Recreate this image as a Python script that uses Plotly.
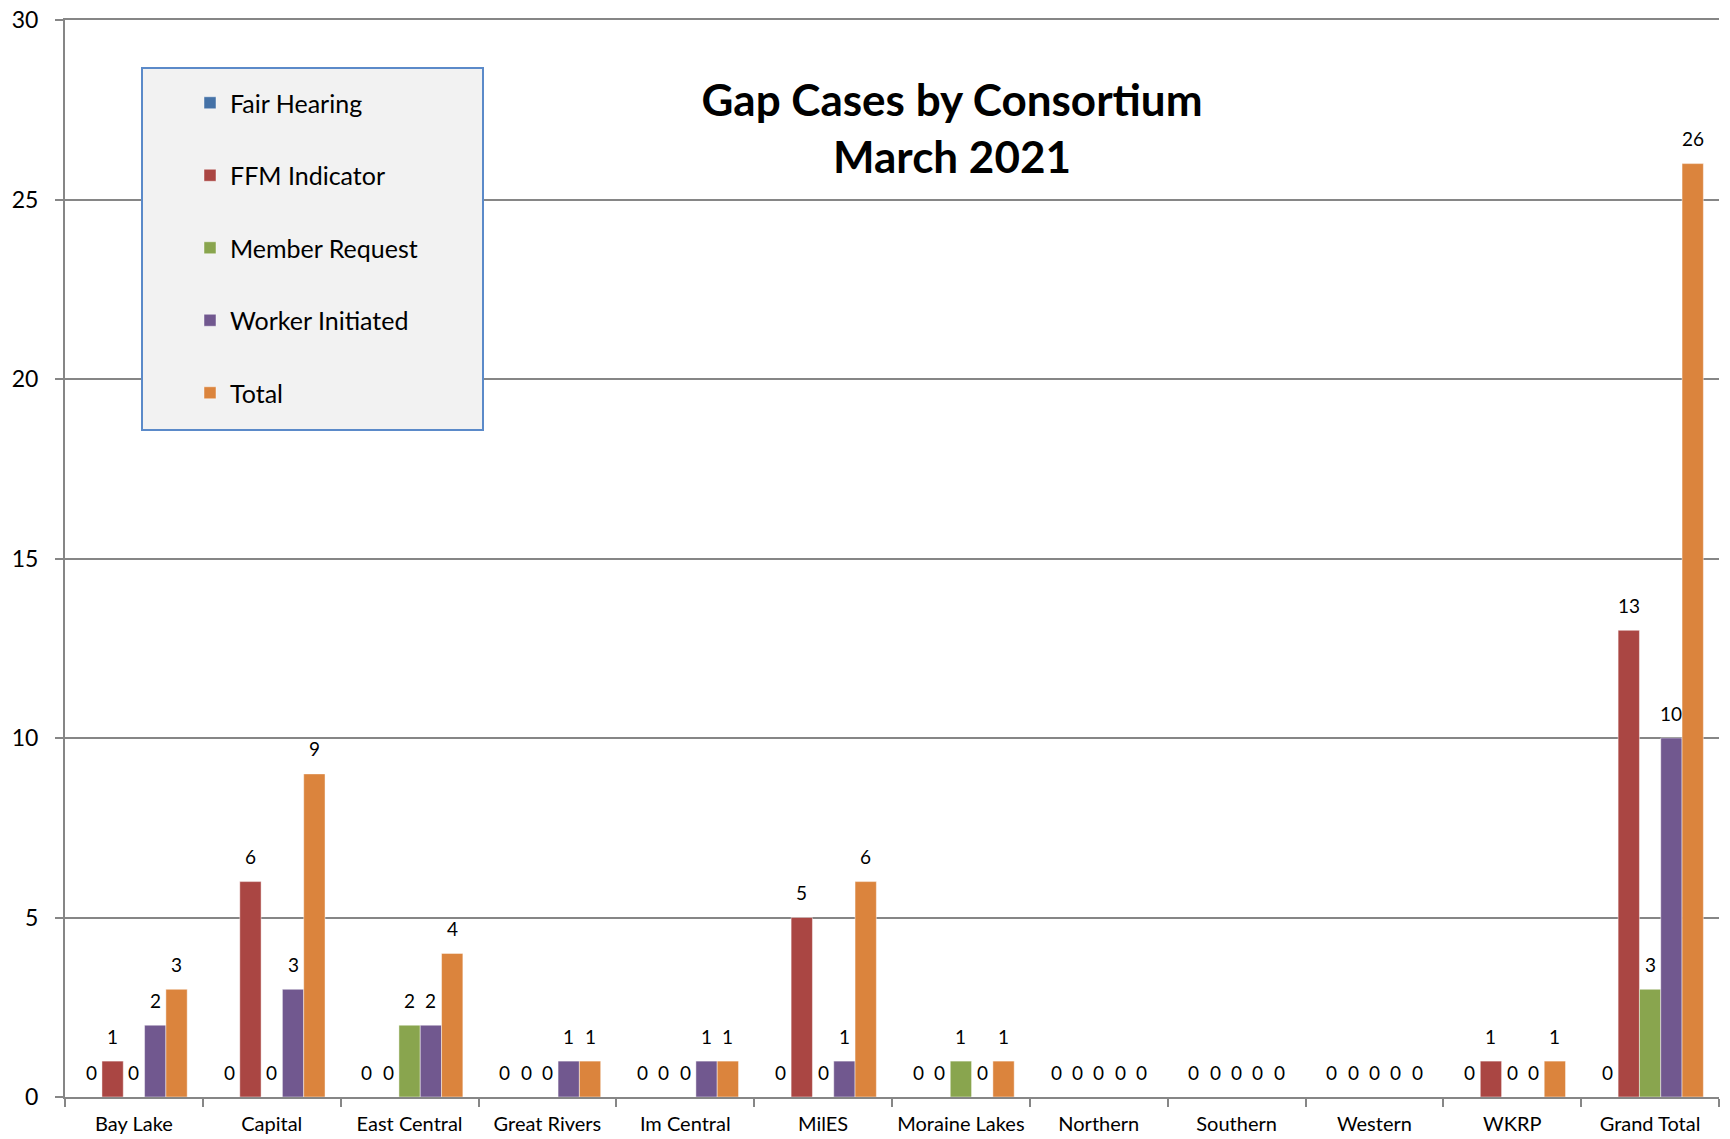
import plotly.graph_objects as go

categories = ["Bay Lake", "Capital", "East Central", "Great Rivers", "Im Central", "MilES",
              "Moraine Lakes", "Northern", "Southern", "Western", "WKRP", "Grand Total"]
fair_hearing = [0, 0, 0, 0, 0, 0, 0, 0, 0, 0, 0, 0]
ffm_indicator = [1, 6, 0, 0, 0, 5, 0, 0, 0, 0, 1, 13]
member_request = [0, 0, 2, 0, 0, 0, 1, 0, 0, 0, 0, 3]
worker_initiated = [2, 3, 2, 1, 1, 1, 0, 0, 0, 0, 0, 10]
total = [3, 9, 4, 1, 1, 6, 1, 0, 0, 0, 1, 26]

series_names = ["Fair Hearing", "FFM Indicator", "Member Request", "Worker Initiated", "Total"]
series_values = [fair_hearing, ffm_indicator, member_request, worker_initiated, total]
series_colors = ["#4572A7", "#AA4643", "#89A54E", "#71588F", "#DB843D"]

# the page body margin is removed by post_script, so figure coords == page coords
W, H = 1730, 1139
ML, MR, MT, MB = 65, 11, 20, 42
FONT = "Lato, Carlito, Calibri, sans-serif"
GRID = "#868686"
BARGAP = 0.227

fig = go.Figure()
for name, vals, col in zip(series_names, series_values, series_colors):
    fig.add_trace(go.Bar(
        x=categories, y=vals, name=name, legendgroup=name,
        marker=dict(color=col, line=dict(color="rgba(255,255,255,0.45)", width=1)),
    ))

plot_w = W - ML - MR
plot_h = H - MT - MB
bar_px = plot_w / len(categories) * (1 - BARGAP) / len(series_names)
annotations = []
for j, vals in enumerate(series_values):
    for cat, v in zip(categories, vals):
        annotations.append(dict(
            x=cat, y=v, xref="x", yref="y", text=str(v), showarrow=False,
            xanchor="center", yanchor="middle", yshift=25,
            xshift=(j - (len(series_names) - 1) / 2) * bar_px,
            font=dict(family=FONT, size=19, color="#000000"),
        ))

# helpers: page pixel -> paper fraction
def px_x(p):
    return (p - ML) / plot_w
def px_y(p):
    return (H - MB - p) / plot_h

fig.update_layout(
    width=W, height=H, autosize=False,
    margin=dict(l=ML, r=MR, t=MT, b=MB, pad=0),
    paper_bgcolor="white", plot_bgcolor="white",
    barmode="group", bargap=BARGAP, bargroupgap=0,
    font=dict(family=FONT, color="#000000"),
    title=dict(
        text="<b>Gap Cases by Consortium<br>March 2021</b>",
        x=952 / W, xanchor="center",
        y=1 - 116 / H, yanchor="middle", yref="container",
        font=dict(family=FONT, size=44, color="#000000"),
    ),
    xaxis=dict(
        showline=True, linecolor=GRID, linewidth=2, mirror=True,
        ticks="outside", tickson="boundaries", ticklen=8, tickcolor=GRID, tickwidth=2,
        tickfont=dict(family=FONT, size=20, color="#000000"),
        tickangle=0, ticklabelstandoff=8, automargin=False,
        showgrid=False, zeroline=False,
    ),
    yaxis=dict(
        range=[0, 30], dtick=5, showgrid=True, gridcolor=GRID, gridwidth=2,
        showline=True, linecolor=GRID, linewidth=2,
        ticks="outside", ticklen=8, tickcolor=GRID, tickwidth=2,
        tickfont=dict(family=FONT, size=23, color="#000000"),
        ticklabelstandoff=12, ticklabeloverflow="allow", automargin=False,
        zeroline=False,
    ),
    showlegend=True,
    legend=dict(
        x=px_x(190), y=px_y(80), xanchor="left", yanchor="top",
        bgcolor="rgba(0,0,0,0)", borderwidth=0,
        font=dict(family=FONT, size=25, color="#000000"),
        tracegroupgap=37, traceorder="grouped",
    ),
    shapes=[dict(
        type="rect", xref="paper", yref="paper",
        x0=px_x(142), x1=px_x(483), y0=px_y(430), y1=px_y(68),
        fillcolor="#F2F2F2", line=dict(color="#5B8AC9", width=2), layer="above",
    )],
    annotations=annotations,
)

fig.write_html(
    "out.html",
    config={"displayModeBar": False},
    post_script="document.body.style.margin='0';document.body.style.overflow='hidden';",
)
